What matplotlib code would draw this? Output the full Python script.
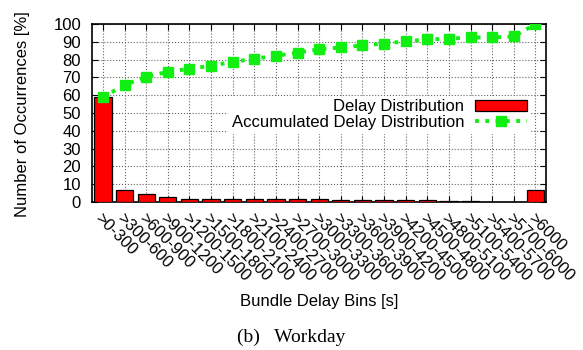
import numpy as np
import matplotlib.pyplot as plt

plt.rcParams['font.family'] = ['Liberation Sans', 'DejaVu Sans']

bins = ['>0-300', '>300-600', '>600-900', '>900-1200', '>1200-1500', '>1500-1800',
        '>1800-2100', '>2100-2400', '>2400-2700', '>2700-3000', '>3000-3300',
        '>3300-3600', '>3600-3900', '>3900-4200', '>4200-4500', '>4500-4800',
        '>4800-5100', '>5100-5400', '>5400-5700', '>5700-6000', '>6000']
delay_dist = [59, 7, 4.5, 2.7, 1.9, 1.6, 1.6, 1.6, 1.6, 1.6, 1.6,
              1.2, 1.0, 1.0, 1.0, 0.9, 0.6, 0.3, 0.2, 0.2, 7]
accum_dist = [58.8, 65.9, 70.4, 73.2, 74.9, 76.6, 78.8, 80.5, 82.2, 84.0, 85.8,
              86.9, 88.0, 89.1, 90.3, 91.4, 91.8, 92.5, 92.5, 93.1, 100]

fig = plt.figure(figsize=(5.83, 3.5), dpi=100)
ax = fig.add_axes([0.158, 0.423, 0.779, 0.508])

x = np.arange(len(bins))
bars = ax.bar(x, delay_dist, width=0.8, color='#ff0000', edgecolor='black', lw=0.9,
              label='Delay Distribution', zorder=3)
line, = ax.plot(x, accum_dist, color='#11ee11', ls=':', lw=2.8, marker='s', markersize=7.5,
                label='Accumulated Delay Distribution', zorder=4)

ax.set_xlim(-0.5, len(bins) - 0.5)
ax.set_ylim(0, 100)
ax.set_yticks(range(0, 101, 10))
ax.set_xticks(x)
ax.set_xticklabels(bins, rotation=-45, ha='left', va='top', rotation_mode='anchor', fontsize=12)
ax.tick_params(axis='both', direction='in', top=True, right=True, labelsize=12, length=4)
ax.tick_params(axis='x', pad=6)
ax.tick_params(axis='y', pad=8)
ax.grid(True, color='#666666', ls=':', lw=0.8, zorder=0)
for s in ax.spines.values():
    s.set_linewidth(1.2)

ax.set_ylabel('Number of Occurrences [%]', fontsize=12)
ax.yaxis.set_label_coords(-0.137, 0.494)
ax.set_xlabel('Bundle Delay Bins [s]', fontsize=12)
ax.xaxis.set_label_coords(0.5, -0.52)

leg = ax.legend([bars, line], ['Delay Distribution', 'Accumulated Delay Distribution'],
                loc='upper right', bbox_to_anchor=(0.964, 0.595), frameon=True, fontsize=12,
                markerfirst=False, handlelength=3.1, borderaxespad=0, labelspacing=0.05,
                handletextpad=0.65, borderpad=0.2, numpoints=1, fancybox=False)
leg.get_frame().set_edgecolor('none')
leg.get_frame().set_facecolor('white')
leg.get_frame().set_alpha(1)

fig.text(0.5, 0.037, '(b)   Workday', ha='center', va='center', fontsize=14,
         family=['Liberation Serif', 'DejaVu Serif'])

fig.savefig('out.png', dpi=100)
